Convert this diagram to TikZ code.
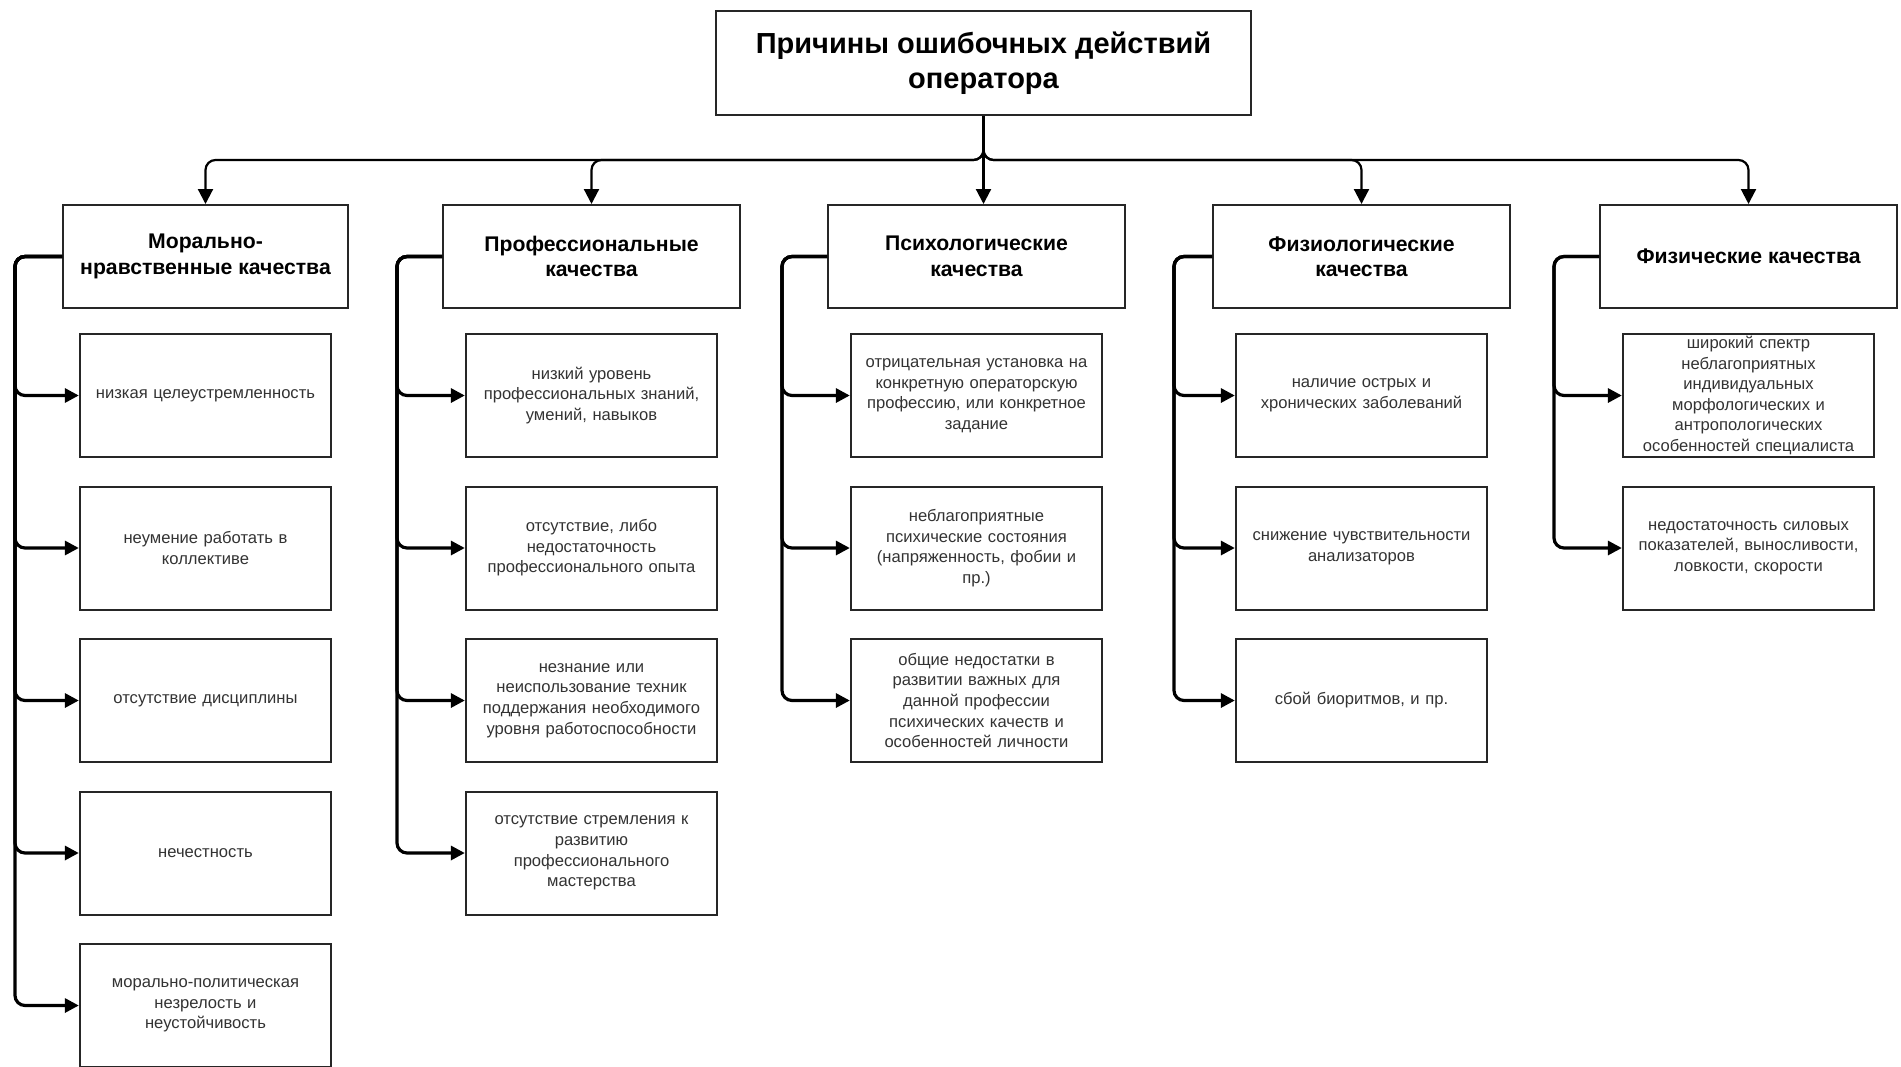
\documentclass[tikz,border=0pt]{standalone}
\usepackage{fontspec}
\setmainfont{Liberation Sans}
\usetikzlibrary{arrows.meta}

\tikzset{
  box/.style={draw=black!85, line width=1pt, align=center},
  topbox/.style={box, minimum width=267.5pt, minimum height=52pt,
    font=\bfseries\fontsize{14.5}{17.5}\selectfont},
  catbox/.style={box, minimum width=148.5pt, minimum height=51.5pt,
    font=\bfseries\fontsize{10.6}{12.7}\selectfont},
  itembox/.style={box, minimum width=125pt, minimum height=61.5pt, inner ysep=0pt,
    text width=119pt, text=black!80, font=\fontsize{8.3}{10.3}\selectfont},
  conn/.style={line width=1.1pt, rounded corners=5pt, -{Triangle[length=7.5pt,width=7.5pt]}},
  sideconn/.style={conn, line width=1.6pt, -{Triangle[length=7pt,width=7pt]}}
}

\begin{document}
\begin{tikzpicture}[x=0.5pt, y=-0.5pt]
\fill[white] (0,0) rectangle (1901,1066);
\useasboundingbox (0,0) rectangle (1901,1066);
% root
\node[topbox] (top) at (983.5,63) {Причины ошибочных действий\\оператора};
\coordinate (bus) at (983.5,160);
% groups of causes
\node[catbox, minimum width=142.5pt] (m1) at (205.5,256.5) {Морально-\\нравственные качества};
\node[catbox] (m2) at (591.5,256.5) {Профессиональные\\качества};
\node[catbox] (m3) at (976.5,256.5) {Психологические\\качества};
\node[catbox] (m4) at (1361.5,256.5) {Физиологические\\качества};
\node[catbox] (m5) at (1748.5,256.5) {Физические качества};
\foreach \c in {1,2,4,5}
  \draw[conn] (top.south) -- (bus) -| (m\c.north);
\draw[conn] (top.south) -- (top.south |- m3.north);
% rows and spines
\foreach \r in {1,...,5}
  \coordinate (row\r) at (0,{395.5+152.5*(\r-1)});
\foreach \c/\sx in {1/15,2/397,3/782,4/1174,5/1554}
  \coordinate (s\c) at (\sx,256.5);
% causes
\foreach \c/\r/\txt in {
  1/1/{низкая целеустремленность},
  1/2/{неумение работать в\\коллективе},
  1/3/{отсутствие дисциплины},
  1/4/{нечестность},
  1/5/{морально-политическая\\незрелость и\\неустойчивость},
  2/1/{низкий уровень\\профессиональных знаний,\\умений, навыков},
  2/2/{отсутствие, либо\\недостаточность\\профессионального опыта},
  2/3/{незнание или\\неиспользование техник\\поддержания необходимого\\уровня работоспособности},
  2/4/{отсутствие стремления к\\развитию\\профессионального\\мастерства},
  3/1/{отрицательная установка на\\конкретную операторскую\\профессию, или конкретное\\задание},
  3/2/{неблагоприятные\\психические состояния\\(напряженность, фобии и\\пр.)},
  3/3/{общие недостатки в\\развитии важных для\\данной профессии\\психических качеств и\\особенностей личности},
  4/1/{наличие острых и\\хронических заболеваний},
  4/2/{снижение чувствительности\\анализаторов},
  4/3/{сбой биоритмов, и пр.},
  5/1/{широкий спектр\\неблагоприятных\\индивидуальных\\морфологических и\\антропологических\\особенностей специалиста},
  5/2/{недостаточность силовых\\показателей, выносливости,\\ловкости, скорости}} {
  \node[itembox] (i\c\r) at (m\c |- row\r) {\txt};
  \draw[sideconn] (m\c.west) -- (s\c) |- (i\c\r.west);
}
\end{tikzpicture}
\end{document}
